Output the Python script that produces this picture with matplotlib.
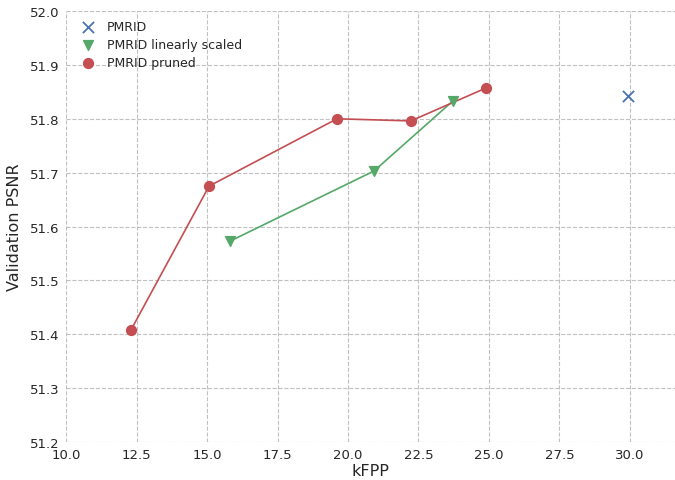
import matplotlib.pyplot as plt
import seaborn as sns

sns.set_style("whitegrid", {"grid.linestyle": "--"})

# kFPP vs validation PSNR
base_kfpp = [29.93]
base_psnr = [51.842]

scaled_kfpp = [15.82, 20.92, 23.72]
scaled_psnr = [51.573, 51.703, 51.833]

pruned_kfpp = [12.30, 15.07, 19.61, 22.23, 24.89]
pruned_psnr = [51.408, 51.675, 51.800, 51.796, 51.857]

blue, green, red = '#4C72B0', '#55A868', '#C44E52'

fig = plt.figure(figsize=(6.75, 4.81), dpi=100)
ax = fig.add_axes([0.098, 0.079, 0.902, 0.896])

# connecting lines first, markers on top carry the legend entries
ax.plot(scaled_kfpp, scaled_psnr, '-', color=green, lw=1.2)
ax.plot(pruned_kfpp, pruned_psnr, '-', color=red, lw=1.2)

ax.scatter(base_kfpp, base_psnr, marker='x', color=blue, s=65, linewidths=1.3, label='PMRID', zorder=3)
ax.scatter(scaled_kfpp, scaled_psnr, marker='v', color=green, s=50, label='PMRID linearly scaled', zorder=3)
ax.scatter(pruned_kfpp, pruned_psnr, marker='o', color=red, s=50, label='PMRID pruned', zorder=3)

ax.set_xlim(10, 31.6)
ax.set_ylim(51.2, 52.0)
ax.set_xticks([10, 12.5, 15, 17.5, 20, 22.5, 25, 27.5, 30])
ax.set_xticklabels(['10.0', '12.5', '15.0', '17.5', '20.0', '22.5', '25.0', '27.5', '30.0'])
ax.grid(True, linestyle='--', color='#c0c0c0', lw=0.8)
for s in ax.spines.values():
    s.set_visible(False)
ax.tick_params(labelsize=9.5, pad=1)

ax.set_xlabel('kFPP', fontsize=11.5, labelpad=1)
ax.set_ylabel('Validation PSNR', fontsize=11.5, labelpad=6)
ax.legend(loc='upper left', frameon=False, fontsize=9, handletextpad=0.5,
          borderaxespad=0.35, labelspacing=0.4, scatterpoints=1)

fig.savefig('out.png')
